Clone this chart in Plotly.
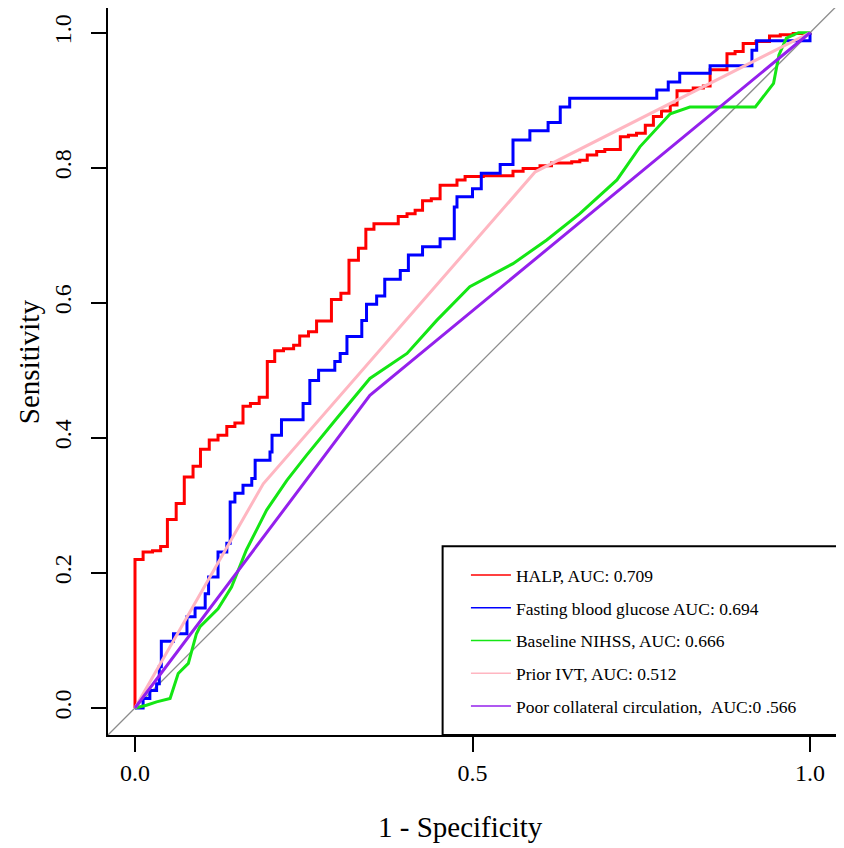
import plotly.graph_objects as go

# ROC curves (1 - specificity, sensitivity)
halp_fpr = [0, 0, 0.012, 0.026, 0.038, 0.048, 0.061, 0.073, 0.086, 0.097,
            0.110, 0.123, 0.136, 0.148, 0.160, 0.171, 0.184, 0.196, 0.207, 0.220,
            0.235, 0.244, 0.257, 0.269, 0.291, 0.305, 0.317, 0.331, 0.342, 0.354,
            0.390, 0.403, 0.415, 0.426, 0.439, 0.452, 0.477, 0.489, 0.516, 0.560,
            0.575, 0.600, 0.617, 0.647, 0.659, 0.670, 0.684, 0.696, 0.719, 0.731,
            0.743, 0.756, 0.768, 0.780, 0.793, 0.803, 0.827, 0.842, 0.852, 0.877,
            0.889, 0.901, 0.920, 0.940, 0.956, 0.975, 1.0]
halp_tpr = [0, 0.220, 0.231, 0.233, 0.239, 0.279, 0.303, 0.342, 0.358, 0.383,
            0.397, 0.404, 0.417, 0.422, 0.447, 0.451, 0.460, 0.513, 0.529, 0.532,
            0.537, 0.551, 0.557, 0.573, 0.605, 0.614, 0.663, 0.681, 0.709, 0.717,
            0.728, 0.732, 0.737, 0.751, 0.754, 0.774, 0.782, 0.787, 0.788, 0.795,
            0.799, 0.803, 0.807, 0.809, 0.811, 0.819, 0.824, 0.827, 0.846, 0.848,
            0.851, 0.863, 0.876, 0.884, 0.893, 0.914, 0.918, 0.921, 0.945, 0.969,
            0.972, 0.984, 0.987, 0.995, 0.997, 0.999, 1.0]

fbg_fpr = [0, 0.012, 0.022, 0.032, 0.036, 0.039, 0.057, 0.077, 0.089, 0.104,
           0.109, 0.123, 0.136, 0.141, 0.148, 0.160, 0.173, 0.178, 0.200, 0.203,
           0.217, 0.249, 0.259, 0.272, 0.296, 0.304, 0.314, 0.336, 0.343, 0.358,
           0.370, 0.393, 0.405, 0.426, 0.452, 0.473, 0.477, 0.500, 0.513, 0.541,
           0.560, 0.585, 0.612, 0.630, 0.644, 0.773, 0.790, 0.807, 0.852, 0.914,
           0.921, 0.970, 1.0]
fbg_tpr = [0, 0.014, 0.026, 0.036, 0.061, 0.099, 0.110, 0.135, 0.148, 0.169,
           0.194, 0.231, 0.244, 0.305, 0.318, 0.330, 0.340, 0.367, 0.379, 0.404,
           0.427, 0.451, 0.485, 0.500, 0.513, 0.525, 0.550, 0.574, 0.598, 0.610,
           0.635, 0.648, 0.671, 0.683, 0.695, 0.742, 0.757, 0.769, 0.792, 0.805,
           0.841, 0.855, 0.867, 0.890, 0.903, 0.915, 0.927, 0.940, 0.951, 0.974,
           0.988, 0.988, 1.0]

nihss_fpr = [0, 0.017, 0.032, 0.052, 0.064, 0.079, 0.091, 0.096, 0.123, 0.143,
             0.165, 0.195, 0.225, 0.254, 0.299, 0.348, 0.403, 0.447, 0.496, 0.560,
             0.610, 0.659, 0.714, 0.748, 0.793, 0.822, 0.919, 0.946, 0.954, 0.965,
             0.983, 1.0]
nihss_tpr = [0, 0.004, 0.009, 0.014, 0.051, 0.066, 0.110, 0.120, 0.147, 0.179,
             0.234, 0.293, 0.337, 0.374, 0.429, 0.488, 0.525, 0.574, 0.624, 0.658,
             0.693, 0.732, 0.782, 0.831, 0.880, 0.890, 0.890, 0.925, 0.967, 0.992,
             1.0, 1.0]

ivt_fpr = [0, 0.190, 0.593, 1.0]
ivt_tpr = [0, 0.332, 0.794, 1.0]

coll_fpr = [0, 0.348, 1.0]
coll_tpr = [0, 0.463, 1.0]

diag_line = [-0.04, 1.04]

names = ["HALP, AUC: 0.709",
         "Fasting blood glucose AUC: 0.694",
         "Baseline NIHSS, AUC: 0.666",
         "Prior IVT, AUC: 0.512",
         "Poor collateral circulation, \u00a0AUC:0 .566"]
colors = ["#FF0000", "#0000FF", "#14E614", "#FFB6C1", "#9420EC"]
shapes_hv = ["hv", "hv", "linear", "linear", "linear"]
curves = [(halp_fpr, halp_tpr), (fbg_fpr, fbg_tpr), (nihss_fpr, nihss_tpr),
          (ivt_fpr, ivt_tpr), (coll_fpr, coll_tpr)]

serif = "Liberation Serif, Times New Roman, serif"

fig = go.Figure()
fig.add_trace(go.Scatter(x=diag_line, y=diag_line, mode="lines",
                         line=dict(color="#8C8C8C", width=1.3),
                         showlegend=False, hoverinfo="skip"))

for (xs, ys), c, sh in zip(curves, colors, shapes_hv):
    fig.add_trace(go.Scatter(x=xs, y=ys, mode="lines",
                             line=dict(color=c, width=3, shape=sh),
                             showlegend=False))

# thin legend keys, like the R legend
for i, (n, c) in enumerate(zip(names, colors)):
    fig.add_trace(go.Scatter(x=[None], y=[None], mode="lines", name=n,
                             legendgroup=str(i),
                             line=dict(color=c, width=1.5)))

fig.add_shape(type="rect", xref="paper", yref="paper",
              x0=0.459, x1=1.0, y0=0.0, y1=0.2597,
              line=dict(color="black", width=2), fillcolor="white", layer="below")

# axis titles placed like R's mtext
fig.add_annotation(text="1 - Specificity", xref="paper", yref="paper",
                   x=0.484, y=-0.127, xanchor="center", yanchor="middle",
                   showarrow=False, font=dict(size=29, family=serif))
fig.add_annotation(text="Sensitivity", xref="paper", yref="paper",
                   x=-0.109, y=0.5136, xanchor="center", yanchor="middle",
                   textangle=-90, showarrow=False, font=dict(size=29, family=serif))

# page body adds an 8px offset, so the figure is 8px smaller than the window
fig.update_layout(
    width=836, height=840,
    margin=dict(l=100, r=7, t=0, b=113.3),
    paper_bgcolor="white", plot_bgcolor="white",
    font=dict(family=serif, color="black"),
    showlegend=True,
    legend=dict(x=0.491, y=0.2445, xanchor="left", yanchor="top",
                bgcolor="rgba(0,0,0,0)", borderwidth=0,
                font=dict(family=serif, size=17.5, color="black"),
                tracegroupgap=7, itemwidth=40),
    xaxis=dict(range=[-0.04, 1.04], tickvals=[0, 0.5, 1.0],
               ticktext=["0.0", "0.5", "1.0"], automargin=False,
               ticks="outside", ticklen=15, tickwidth=1.5, tickcolor="black",
               ticklabelstandoff=0,
               showline=True, linecolor="black", linewidth=2, mirror=True,
               showgrid=False, zeroline=False,
               tickfont=dict(size=24, family=serif)),
    yaxis=dict(range=[-0.04, 1.0366], tickvals=[0, 0.2, 0.4, 0.6, 0.8, 1.0],
               ticktext=["0.0", "0.2", "0.4", "0.6", "0.8", "1.0"],
               tickangle=-90, automargin=False,
               ticks="outside", ticklen=15, tickwidth=1.5, tickcolor="black",
               ticklabelstandoff=10,
               showline=True, linecolor="black", linewidth=2, mirror=True,
               showgrid=False, zeroline=False,
               tickfont=dict(size=24, family=serif)),
)

fig.write_html("out.html")
